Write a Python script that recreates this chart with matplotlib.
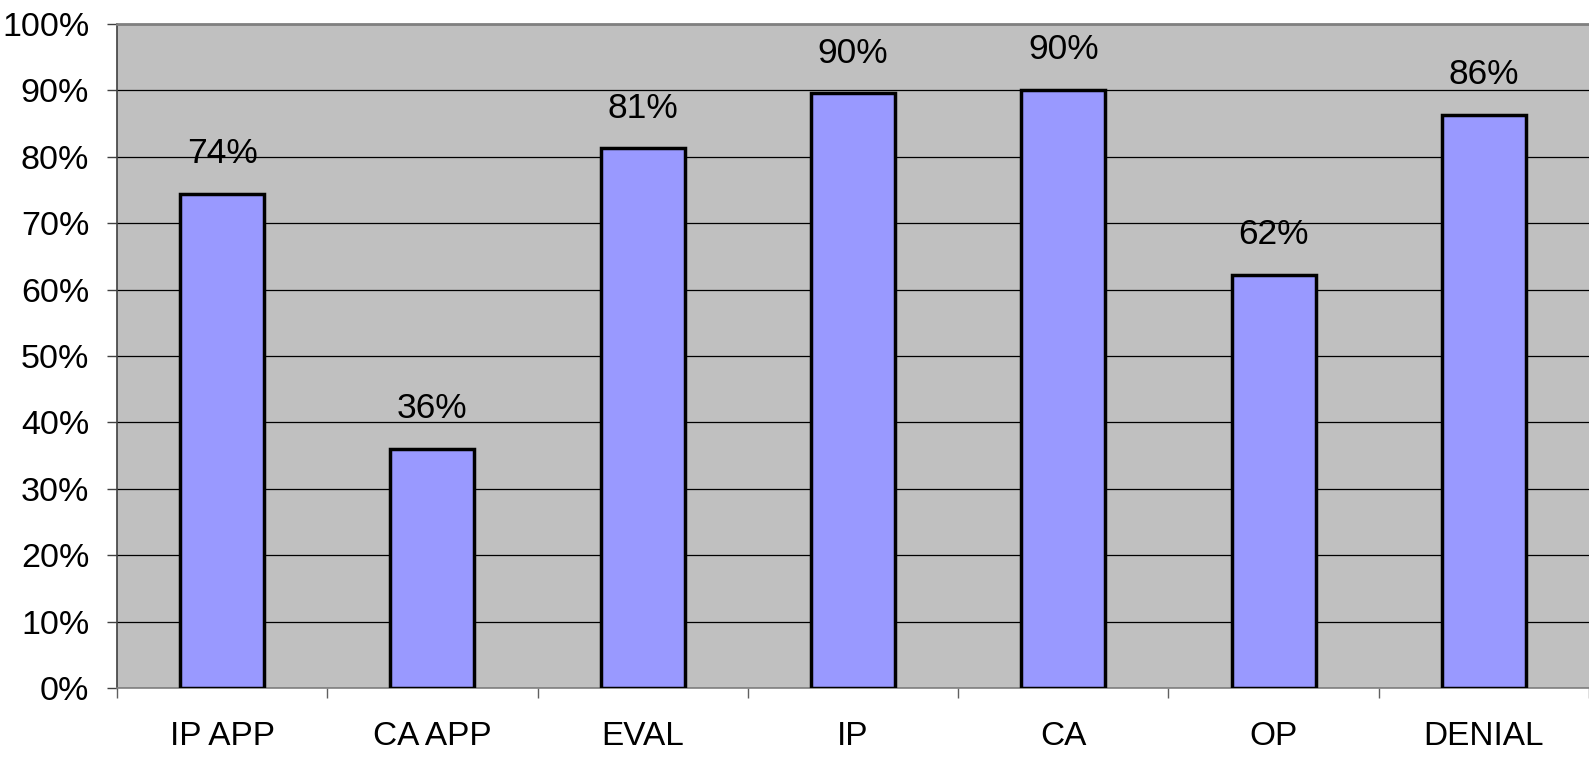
import matplotlib
matplotlib.use('Agg')
import matplotlib.pyplot as plt
import numpy as np
from matplotlib.ticker import FixedLocator, PercentFormatter

plt.rcParams['font.family'] = ['Liberation Sans', 'DejaVu Sans']

# Chart data
categories = ['IP APP', 'CA APP', 'EVAL', 'IP', 'CA', 'OP', 'DENIAL']
values = [74.4, 36.0, 81.3, 89.6, 90.1, 62.2, 86.3]
value_labels = ['74%', '36%', '81%', '90%', '90%', '62%', '86%']

fig = plt.figure(figsize=(15.89, 7.58), dpi=100)
ax = fig.add_axes([117/1589, 1 - 688/758, 1 - 117/1589, (688 - 24)/758])
ax.set_facecolor('#C0C0C0')

x = np.arange(len(categories))
bars = ax.bar(x, values, width=0.4, color='#9999FF', edgecolor='black',
              linewidth=2.5, zorder=3)

# value labels above bars
for xi, v, lab in zip(x, values, value_labels):
    ax.annotate(lab, (xi, v), xytext=(0, 22), textcoords='offset points',
                ha='center', va='baseline', fontsize=25.5, color='black')

ax.set_xlim(-0.5, len(categories) - 0.5)
ax.set_ylim(0, 100)

ax.yaxis.set_major_locator(FixedLocator(np.arange(0, 101, 10)))
ax.yaxis.set_major_formatter(PercentFormatter(decimals=0))
ax.yaxis.grid(True, color='black', linewidth=0.9, zorder=1)
ax.set_axisbelow(True)

ax.set_xticks(x)
ax.set_xticklabels(categories)
ax.set_xticks(np.arange(-0.5, len(categories)), minor=True)
ax.tick_params(axis='x', which='major', length=0, pad=24, labelsize=24)
ax.tick_params(axis='x', which='minor', length=7, width=1, color='#606060')
ax.tick_params(axis='y', length=7, width=1, color='#404040', pad=13,
               labelsize=24.5)

ax.spines['right'].set_visible(False)
ax.spines['left'].set_color('#404040')
ax.spines['left'].set_linewidth(1.2)
ax.spines['top'].set_color('#808080')
ax.spines['top'].set_linewidth(2)
ax.spines['bottom'].set_color('#808080')
ax.spines['bottom'].set_linewidth(1.2)

fig.savefig('out.png', dpi=100)
